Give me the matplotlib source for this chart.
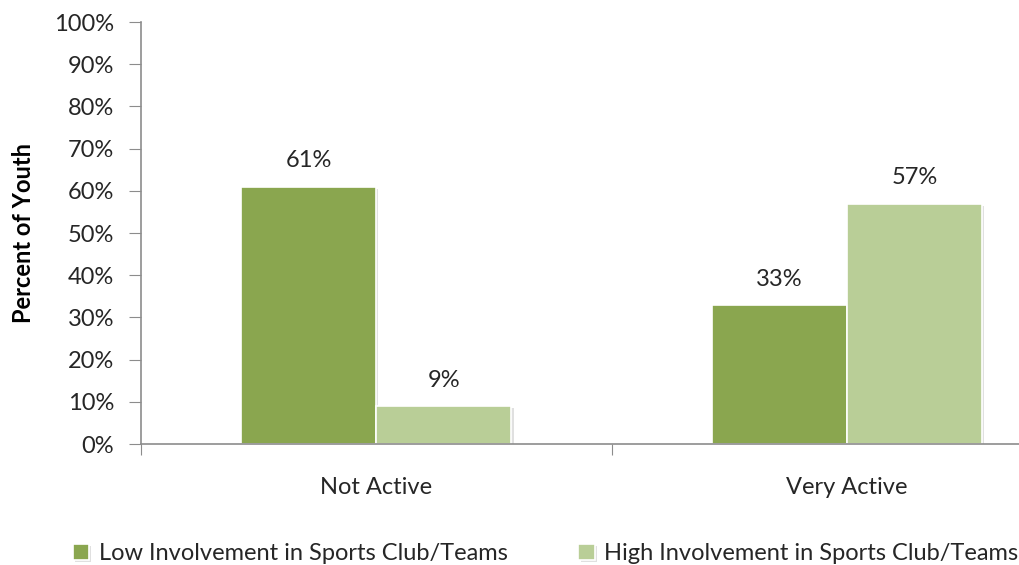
import matplotlib.pyplot as plt
import matplotlib.patheffects as pe
from matplotlib.ticker import PercentFormatter

categories = ["Not Active", "Very Active"]
low_involvement = [61, 33]
high_involvement = [9, 57]
series_names = ["Low Involvement in Sports Club/Teams",
                "High Involvement in Sports Club/Teams"]

plt.rcParams['font.family'] = ['Lato', 'DejaVu Sans']

dark_green = "#8aa64f"
light_green = "#b9ce97"
axis_gray = "#8c8c8c"

fig = plt.figure(figsize=(10.2, 5.65), dpi=100)
# axes run past the right edge of the figure, like the original chart
ax = fig.add_axes([0.138, 0.214, 0.9235, 0.747])

x = range(len(categories))
w = 0.287
shadow = [pe.SimplePatchShadow(offset=(1.5, -1.5), shadow_rgbFace="#000000", alpha=0.12),
          pe.Normal()]
b1 = ax.bar([i - w / 2 for i in x], low_involvement, w, color=dark_green,
            edgecolor="white", linewidth=1.2, label=series_names[0], path_effects=shadow)
b2 = ax.bar([i + w / 2 for i in x], high_involvement, w, color=light_green,
            edgecolor="white", linewidth=1.2, label=series_names[1], path_effects=shadow)

for bars, vals in [(b1, low_involvement), (b2, high_involvement)]:
    for bar, v in zip(bars, vals):
        ax.annotate(f"{v}%", (bar.get_x() + bar.get_width() / 2, v),
                    xytext=(0, 11), textcoords="offset points",
                    ha="center", va="bottom", fontsize=17, color="#262626")

ax.set_xlim(-0.5, 1.5)
ax.set_ylim(0, 100)
ax.set_yticks(range(0, 101, 10))
ax.yaxis.set_major_formatter(PercentFormatter(decimals=0))
ax.set_xticks([-0.5, 0.5, 1.5])
ax.set_xticklabels([])
ax.set_xticks(list(x), minor=True)
ax.set_xticklabels(categories, minor=True)
ax.tick_params(axis="x", which="minor", length=0, pad=24, labelsize=17, labelcolor="#262626")
ax.tick_params(axis="x", which="major", length=8, color=axis_gray, direction="out")
ax.tick_params(axis="y", length=9, color=axis_gray, labelsize=17, labelcolor="#262626", pad=10)

for s in ["top", "right"]:
    ax.spines[s].set_visible(False)
for s in ["left", "bottom"]:
    ax.spines[s].set_color(axis_gray)
    ax.spines[s].set_linewidth(1.2)

ax.set_ylabel("Percent of Youth", fontsize=17, fontweight="bold", labelpad=14)

fig.legend(handles=[b1, b2], loc="center", bbox_to_anchor=(0.535, 0.02), ncol=2,
           frameon=False, fontsize=17, handlelength=0.7, handleheight=0.7,
           handletextpad=0.4, columnspacing=3.0, labelcolor="#262626")

fig.savefig("out.png", dpi=100)
